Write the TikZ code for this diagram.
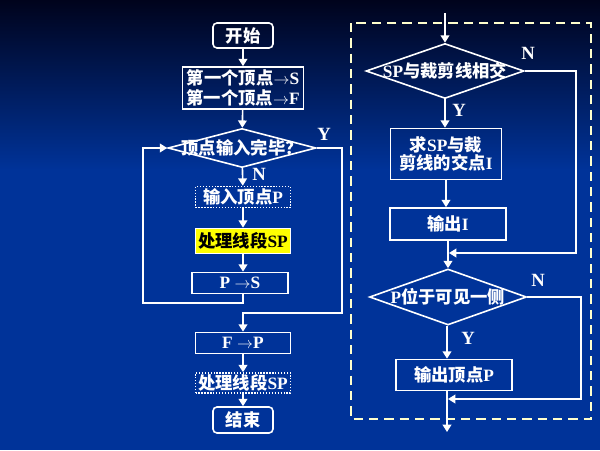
\documentclass[tikz,border=0pt]{standalone}
\usepackage{fontspec}
\setmainfont{Liberation Serif}
\newfontfamily\cjk{Noto Sans CJK SC}
\usepackage{tikz}
\usetikzlibrary{arrows.meta,shapes.geometric}
\definecolor{bgtop}{RGB}{0,3,28}
\definecolor{bgblue}{RGB}{0,51,153}
\definecolor{frameyel}{RGB}{255,255,204}
\definecolor{hilite}{RGB}{255,255,0}
\newcommand\zh[1]{{\cjk\bfseries #1}}
\begin{document}
\begin{tikzpicture}[
x=0.75pt, y=-0.75pt,
font=\fontsize{13}{15}\selectfont\bfseries,
every node/.append style={text=white},
blk/.style={draw=white, line width=1.2pt, inner sep=0pt, align=center},
term/.style={blk, rounded corners=3pt},
dots/.style={blk, dash pattern=on 1pt off 1.2pt},
dec/.style={diamond, draw=white, line width=1.2pt, inner sep=0pt},
arr/.style={-{Triangle[length=5.5pt,width=6.5pt]}, draw=white, line width=1.2pt},
yn/.style={font=\fontsize{14}{16}\selectfont\bfseries}
]
\useasboundingbox (0,0) rectangle (600,450);
% background
\shade[top color=bgtop, bottom color=bgblue] (0,0) rectangle (600,170);
\fill[bgblue] (0,169) rectangle (600,450);

% left part
\node[term, minimum width=45pt, minimum height=18.75pt] (start) at (243,35.5) {\zh{开始}};
\node[blk, minimum width=90.75pt, minimum height=31.5pt, font=\fontsize{13}{14.5}\selectfont\bfseries] (init) at (243,88)
  {\zh{第一个顶点}$\rightarrow$S\\\zh{第一个顶点}$\rightarrow$F};
\node[dec, minimum width=111pt, minimum height=29.25pt,
  label=center:{\zh{顶点输入完毕？}}] (chk) at (242,148) {};
\node[dots, minimum width=71.25pt, minimum height=15.75pt] (inP) at (243,197) {\zh{输入顶点}P};
\node[blk, fill=hilite, text=black, minimum width=71.25pt, minimum height=18.75pt] (proc) at (243,241)
  {\zh{处理线段}SP};
\node[blk, minimum width=72pt, minimum height=15.75pt] (pts) at (240,283) {P $\rightarrow$S};
\node[blk, minimum width=71.25pt, minimum height=15.75pt] (ftp) at (243,343) {F $\rightarrow$P};
\node[dots, minimum width=71.25pt, minimum height=15pt] (last) at (243,383) {\zh{处理线段}SP};
\node[term, minimum width=45pt, minimum height=19.5pt] (stop) at (243,420) {\zh{结束}};

\coordinate (lp) at (143,303);
\coordinate (yr) at (342,313);

\draw[arr] (start) -- (init);
\draw[arr] (init) -- (chk);
\draw[arr] (chk) -- (inP);
\draw[arr] (inP) -- (proc);
\draw[arr] (proc) -- (pts.north -| proc.south);
\draw[arr] (pts.south -| proc.south) |- (lp) |- (chk.west);
\draw[arr] (chk.east) -| (yr) -| (ftp.north);
\draw[arr] (ftp) -- (last);
\draw[arr] (last) -- (stop);

\node[yn] (y1) at (324,134) {Y};
\node[yn] (n1) at (259,174) {N};

% right part: dashed frame
\draw[frameyel, line width=1.5pt, dash pattern=on 7pt off 4.5pt] (351,23) rectangle (591,419);

\node[dec, minimum width=118.5pt, minimum height=41.25pt,
  label=center:{SP\zh{与裁剪线相交}}] (cross) at (445,71) {};
\node[blk, minimum width=83.25pt, minimum height=38.25pt] (isect) at (446,154)
  {\zh{求}SP\zh{与裁}\\[-1pt]\zh{剪线的交点}I};
\node[blk, minimum width=87pt, minimum height=24pt] (outI) at (448,224) {\zh{输出}I};
\node[dec, minimum width=117.75pt, minimum height=42pt,
  label=center:{P\zh{位于可见一侧}}] (vis) at (448,297) {};
\node[blk, minimum width=87pt, minimum height=23.25pt] (outP) at (454,375) {\zh{输出顶点}P};

\coordinate (topin) at (445,13);
\coordinate (botout) at (447,432);
\coordinate (nr1) at (576,253);
\coordinate (j1) at (449,253);
\coordinate (nr2) at (581,399);
\coordinate (j2) at (448,399);

\draw[arr] (topin) -- (cross.north);
\draw[arr] (cross.south) -- (cross.south |- isect.north);
\draw[arr] (isect.south) -- (isect.south |- outI.north);
\draw[arr] (outI) -- (vis);
\draw[arr] (cross.east) -| (nr1) -- (j1);
\draw[arr] (vis.south -| 447,0) -- (outP.north -| 447,0);
\draw[arr] (outP.south -| 447,0) -- (botout);
\draw[arr] (vis.east) -| (nr2) -- (j2);

\node[yn] (n2) at (528,53) {N};
\node[yn] (y2) at (459,110) {Y};
\node[yn] (n3) at (538,280) {N};
\node[yn] (y3) at (468,338) {Y};
\end{tikzpicture}
\end{document}
